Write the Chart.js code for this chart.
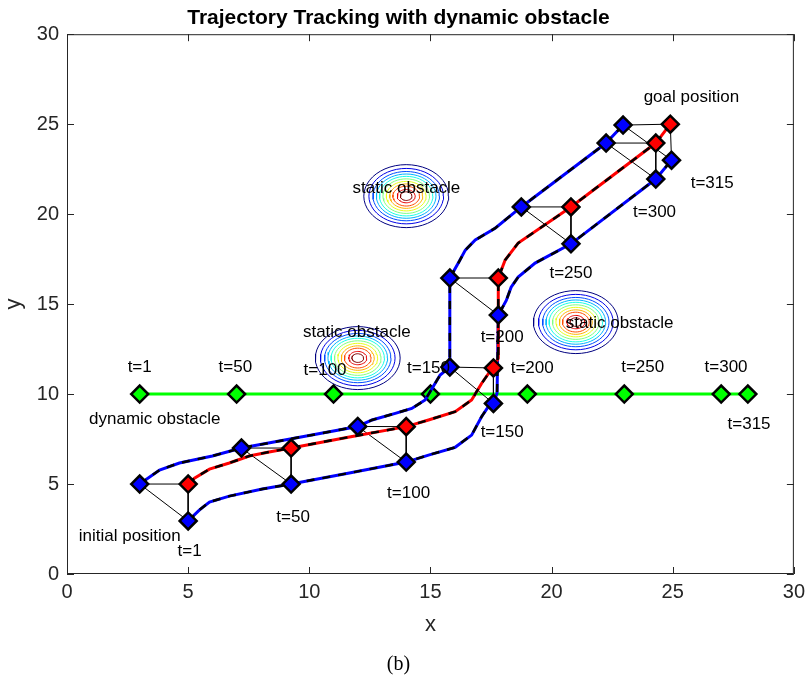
<!DOCTYPE html>
<html lang="en">
<head>
  <meta charset="UTF-8">
  <title>Trajectory Tracking with dynamic obstacle</title>
  <script src="https://cdn.jsdelivr.net/npm/chart.js"></script>
  <style>
    html, body { margin: 0; padding: 0; background: #fff; }
    #wrap { width: 811px; height: 685px; }
  </style>
</head>
<body>
  <div id="wrap"><canvas id="traj" width="811" height="685"></canvas></div>

  <script>
    // axis ticks
    const xTickValues = [0, 5, 10, 15, 20, 25, 30];
    const yTickValues = [0, 5, 10, 15, 20, 25, 30];

    // formation snapshots at t = 1, 50, 100, 150, 200, 250, 300, 315
    const timeLabels = ['t=1', 't=50', 't=100', 't=150', 't=200', 't=250', 't=300', 't=315'];
    const leaderX = [5, 9.25, 14, 17.6, 17.8, 20.8, 24.3, 24.9];
    const leaderY = [5, 7.0, 8.19, 11.45, 16.45, 20.4, 23.95, 25.0];
    const follower1X = [3, 7.2, 12, 15.8, 15.8, 18.75, 22.25, 22.95];
    const follower1Y = [5, 7.0, 8.2, 11.5, 16.45, 20.4, 23.95, 24.95];
    const follower2X = [5, 9.25, 14, 17.6, 17.8, 20.8, 24.3, 24.95];
    const follower2Y = [2.95, 5.0, 6.22, 9.48, 14.39, 18.35, 21.95, 23.0];

    // trajectories
    const leaderPathX = [5, 5.26, 5.88, 6.7, 7.52, 8.34, 9.25, 11.6, 14.0, 14.92, 16.02, 16.7, 17.11, 17.45, 17.6, 17.8, 17.8, 18.08, 18.62, 20.8, 24.3, 24.9];
    const leaderPathY = [5, 5.33, 5.83, 6.17, 6.56, 6.78, 7.0, 7.6, 8.19, 8.56, 9.02, 9.67, 10.59, 11.24, 11.45, 12.0, 16.45, 17.44, 18.39, 20.4, 23.95, 25.0];
    const follower1PathX = [3, 3.82, 4.64, 6.0, 7.2, 9.6, 12.0, 12.59, 13.55, 14.23, 14.78, 15.19, 15.4, 15.8, 15.8, 16.15, 16.44, 16.85, 17.67, 18.75, 22.25, 22.95];
    const follower1PathY = [5, 5.78, 6.17, 6.56, 7.0, 7.6, 8.2, 8.56, 8.93, 9.2, 9.67, 10.59, 11.06, 11.5, 16.45, 17.28, 18.0, 18.56, 19.22, 20.4, 23.95, 24.95];
    const follower2PathX = [5, 5.47, 5.88, 6.7, 8.06, 9.25, 11.6, 14.0, 14.92, 16.02, 16.7, 17.11, 17.39, 17.59, 17.75, 17.8, 18.13, 18.33, 18.62, 19.32, 20.8, 24.3, 24.95];
    const follower2PathY = [2.95, 3.56, 4.0, 4.33, 4.72, 5.0, 5.6, 6.22, 6.61, 7.04, 7.72, 8.74, 9.3, 9.48, 10.05, 14.39, 15.2, 15.94, 16.5, 17.28, 18.35, 21.95, 23.0];

    // dynamic obstacle
    const obstacleX = [3, 7, 11, 15, 19, 23, 27, 28.1];
    const obstacleY = [10, 10, 10, 10, 10, 10, 10, 10];

    // static obstacles (contour centres and contour radii)
    const staticX = [14, 12, 21];
    const staticY = [21, 12, 14];
    const contourRadii = [1.75, 1.54, 1.37, 1.23, 1.1, 0.96, 0.82, 0.68, 0.55, 0.37, 0.24];
    const contourColors = ['#000080', '#0000e6', '#004dff', '#00b3ff', '#1affe6', '#80ff80',
                           '#e6ff1a', '#ffb300', '#ff4d00', '#e60000', '#800000'];

    // text labels
    const robotLabelX = [5.06, 9.33, 14.1, 17.96, 17.96, 20.8, 24.25, 26.63];
    const robotLabelY = [1.28, 3.17, 4.5, 7.89, 13.17, 16.72, 20.11, 21.72];
    const obstacleLabelX = [3.0, 6.95, 10.65, 14.92, 19.2, 23.76, 27.2, 28.15];
    const obstacleLabelY = [11.5, 11.5, 11.33, 11.44, 11.44, 11.5, 11.5, 8.33];
    const noteText = ['dynamic obstacle', 'initial position', 'goal position', 'static obstacle', 'static obstacle', 'static obstacle'];
    const noteX = [3.62, 2.59, 25.77, 14.01, 11.96, 22.81];
    const noteY = [8.61, 2.11, 26.5, 21.44, 13.44, 13.94];

    const FONT = "'Liberation Sans', Arial, Helvetica, sans-serif";
    const AXIS = '#262626';

    function pts(xs, ys) {
      return xs.map((x, i) => ({ x: x, y: ys[i] }));
    }

    function ring(cx, cy, r) {
      const out = [];
      for (let k = 0; k <= 48; k++) {
        const a = 2 * Math.PI * k / 48;
        out.push({ x: cx + r * Math.cos(a), y: cy + r * Math.sin(a) });
      }
      return out;
    }

    const datasets = [];

    // contours, bottom layer
    staticX.forEach((cx, j) => {
      contourRadii.forEach((r, k) => {
        datasets.push({
          data: ring(cx, staticY[j], r),
          borderColor: contourColors[k],
          borderWidth: 1,
          pointRadius: 0,
          order: 60
        });
      });
    });

    // dynamic obstacle
    datasets.push({
      data: pts(obstacleX, obstacleY),
      borderColor: '#00ff00',
      borderWidth: 3,
      pointStyle: 'rectRot',
      pointRadius: 8.5,
      pointBackgroundColor: '#00ff00',
      pointBorderColor: '#000',
      pointBorderWidth: 2.5,
      order: 50
    });

    // formation links
    const links = [];
    timeLabels.forEach((t, i) => {
      links.push({ x: follower1X[i], y: follower1Y[i] });
      links.push({ x: leaderX[i], y: leaderY[i] });
      links.push({ x: follower2X[i], y: follower2Y[i] });
      links.push({ x: follower1X[i], y: follower1Y[i] });
      links.push({ x: follower1X[i], y: null });
    });
    datasets.push({ data: links, borderColor: '#000', borderWidth: 1, pointRadius: 0, spanGaps: false, order: 40 });

    // trajectories: colour solid + black dashed reference
    [[follower1PathX, follower1PathY, '#0000ff'],
     [leaderPathX, leaderPathY, '#ff0000'],
     [follower2PathX, follower2PathY, '#0000ff']].forEach(p => {
      datasets.push({ data: pts(p[0], p[1]), borderColor: p[2], borderWidth: 3, pointRadius: 0, order: 30 });
      datasets.push({ data: pts(p[0], p[1]), borderColor: '#000', borderWidth: 2.5, borderDash: [8, 8], pointRadius: 0, order: 20 });
    });

    // robot markers
    [[follower1X, follower1Y, '#0000ff'],
     [follower2X, follower2Y, '#0000ff'],
     [leaderX, leaderY, '#ff0000']].forEach(r => {
      datasets.push({
        data: pts(r[0], r[1]),
        showLine: false,
        pointStyle: 'rectRot',
        pointRadius: 8.5,
        pointBackgroundColor: r[2],
        pointBorderColor: '#000',
        pointBorderWidth: 2.5,
        order: 10
      });
    });

    const matlabBox = {
      id: 'matlabBox',
      afterDatasetsDraw(chart) {
        const { ctx, chartArea: a, scales: { x, y } } = chart;
        ctx.save();
        ctx.strokeStyle = AXIS;
        ctx.lineWidth = 1;
        ctx.strokeRect(a.left + 0.5, a.top + 0.5, a.width - 1, a.height - 1);
        ctx.beginPath();
        xTickValues.forEach(v => {
          const px = Math.round(x.getPixelForValue(v)) + 0.5;
          ctx.moveTo(px, a.bottom); ctx.lineTo(px, a.bottom - 7);
          ctx.moveTo(px, a.top); ctx.lineTo(px, a.top + 7);
        });
        yTickValues.forEach(v => {
          const py = Math.round(y.getPixelForValue(v)) + 0.5;
          ctx.moveTo(a.left, py); ctx.lineTo(a.left + 7, py);
          ctx.moveTo(a.right, py); ctx.lineTo(a.right - 7, py);
        });
        ctx.stroke();

        // annotations
        ctx.font = '17px ' + FONT;
        ctx.fillStyle = '#000';
        ctx.textAlign = 'center';
        ctx.textBaseline = 'middle';
        timeLabels.forEach((t, i) => {
          ctx.fillText(t, x.getPixelForValue(robotLabelX[i]), y.getPixelForValue(robotLabelY[i]));
          ctx.fillText(t, x.getPixelForValue(obstacleLabelX[i]), y.getPixelForValue(obstacleLabelY[i]));
        });
        noteText.forEach((t, i) => {
          ctx.fillText(t, x.getPixelForValue(noteX[i]), y.getPixelForValue(noteY[i]));
        });
        ctx.restore();
      }
    };

    new Chart(document.getElementById('traj'), {
      type: 'line',
      data: { datasets: datasets },
      options: {
        responsive: false,
        animation: false,
        layout: { padding: { left: 0, right: 14, top: 0, bottom: 0 } },
        elements: { line: { tension: 0 } },
        plugins: {
          legend: { display: false },
          tooltip: { enabled: false },
          title: {
            display: true,
            text: 'Trajectory Tracking with dynamic obstacle',
            color: '#000',
            font: { family: FONT, size: 21, weight: 'bold' },
            padding: { top: 6, bottom: 3 }
          },
          subtitle: {
            display: true,
            position: 'bottom',
            text: '(b)',
            color: '#000',
            font: { family: "'Liberation Serif', 'Times New Roman', serif", size: 20 },
            padding: { top: 2, bottom: 8.6 }
          }
        },
        scales: {
          x: {
            type: 'linear',
            min: 0, max: 30,
            afterBuildTicks: s => { s.ticks = xTickValues.map(v => ({ value: v })); },
            afterFit: s => { s.height = 76.4; },
            ticks: { color: AXIS, padding: 6, font: { family: FONT, size: 20 } },
            grid: { display: false, drawTicks: false },
            border: { display: false },
            title: { display: true, text: 'x', color: AXIS, font: { family: FONT, size: 22 }, padding: { top: 0, bottom: 12 } }
          },
          y: {
            type: 'linear',
            min: 0, max: 30,
            afterBuildTicks: s => { s.ticks = yTickValues.map(v => ({ value: v })); },
            afterFit: s => { s.width = 67; },
            ticks: { color: AXIS, padding: 8, font: { family: FONT, size: 20 } },
            grid: { display: false, drawTicks: false },
            border: { display: false },
            title: { display: true, text: 'y', color: AXIS, font: { family: FONT, size: 22 }, padding: { top: 1, bottom: 0 } }
          }
        }
      },
      plugins: [matlabBox]
    });
  </script>
</body>
</html>
